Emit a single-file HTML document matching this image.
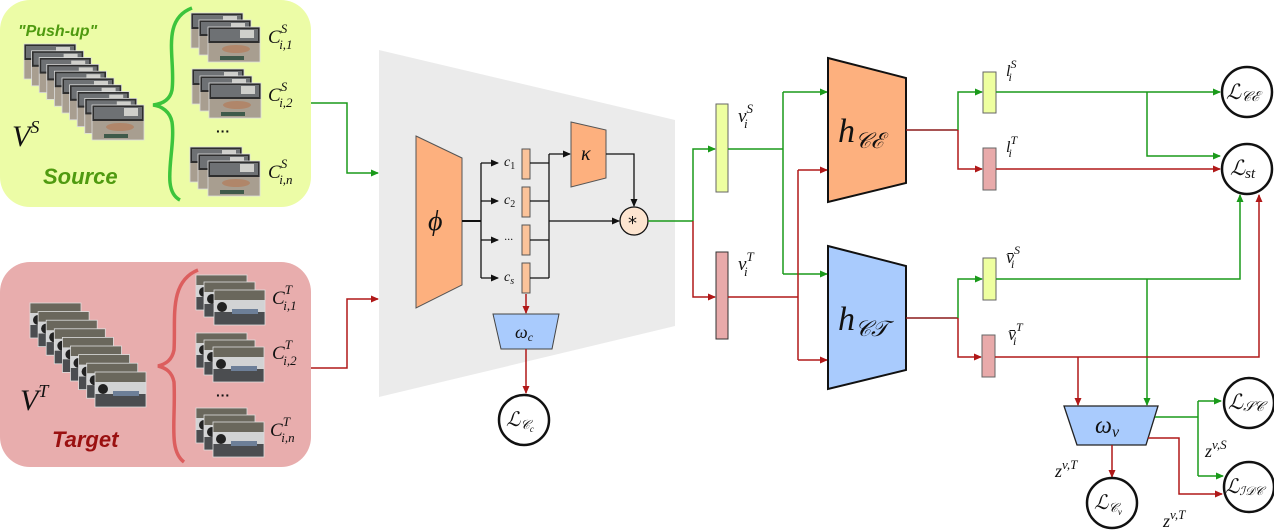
<!DOCTYPE html>
<html><head><meta charset="utf-8"><style>
html,body{margin:0;padding:0;background:#fff;}
svg{display:block;}
text{font-family:"Liberation Serif",serif;font-style:italic;fill:#111;}
</style></head><body>
<svg width="1274" height="531" viewBox="0 0 1274 531" xmlns="http://www.w3.org/2000/svg">
<defs>
<marker id="ag" markerWidth="8" markerHeight="8" refX="7" refY="4" orient="auto" markerUnits="userSpaceOnUse"><path d="M0,0.5 L8,4 L0,7.5 Z" fill="#1a9a1a"/></marker>
<marker id="ar" markerWidth="8" markerHeight="8" refX="7" refY="4" orient="auto" markerUnits="userSpaceOnUse"><path d="M0,0.5 L8,4 L0,7.5 Z" fill="#b01818"/></marker>
<marker id="ak" markerWidth="8" markerHeight="8" refX="7" refY="4" orient="auto" markerUnits="userSpaceOnUse"><path d="M0,0.5 L8,4 L0,7.5 Z" fill="#111"/></marker>
<g id="fs">
<rect x="0" y="0" width="52" height="35" fill="#2e2e2e"/>
<rect x="2" y="2" width="48" height="12" fill="#6e7174"/>
<rect x="32" y="3" width="14" height="8" fill="#cfcfcb"/>
<rect x="0" y="16" width="52" height="19" fill="#a89e90"/>
<ellipse cx="28" cy="22" rx="14" ry="4" fill="#b0866a"/>
<rect x="12" y="29" width="24" height="4" fill="#3f5a4a"/>
<rect x="0" y="0" width="52" height="35" fill="none" stroke="#ddd" stroke-width="0.8"/>
</g>
<g id="ft">
<rect x="0" y="0" width="51" height="35" fill="#6a675c"/>
<rect x="0" y="10" width="51" height="12" fill="#d2d3d4"/>
<ellipse cx="8" cy="17" rx="5" ry="5" fill="#222"/>
<rect x="0" y="22" width="51" height="13" fill="#4b4d50"/>
<rect x="18" y="19" width="26" height="5" fill="#6d7f98"/>
<rect x="0" y="0" width="51" height="35" fill="none" stroke="#ddd" stroke-width="0.8"/>
</g>
</defs>

<rect x="0" y="0" width="311" height="207" rx="30" fill="#ecfca6"/>
<text x="18" y="36" style="font-family:'Liberation Sans',sans-serif;font-weight:bold;font-size:16px;fill:#4f9a10">"Push-up"</text>
<g>
<use href="#fs" x="24" y="44"/><use href="#fs" x="31.6" y="50.8"/><use href="#fs" x="39.2" y="57.6"/><use href="#fs" x="46.8" y="64.4"/><use href="#fs" x="54.4" y="71.2"/><use href="#fs" x="62" y="78"/><use href="#fs" x="69.6" y="84.8"/><use href="#fs" x="77.2" y="91.6"/><use href="#fs" x="84.8" y="98.4"/><use href="#fs" x="92" y="105"/>
</g>
<text x="12" y="146" font-size="30">V<tspan font-size="18" dy="-13">S</tspan></text>
<text x="43" y="184" style="font-family:'Liberation Sans',sans-serif;font-weight:bold;font-size:22px;fill:#4f9a10">Source</text>
<path d="M192,8 C160,20 176,60 172,90 C170,100 162,104 153,105 C162,106 170,112 172,122 C176,150 160,190 180,200" fill="none" stroke="#3cc43c" stroke-width="3.5"/>
<use href="#fs" x="191" y="13"/><use href="#fs" x="199" y="20"/><use href="#fs" x="208" y="27"/>
<use href="#fs" x="192" y="69"/><use href="#fs" x="200" y="76"/><use href="#fs" x="209" y="83"/>
<use href="#fs" x="190" y="147"/><use href="#fs" x="198" y="154"/><use href="#fs" x="208" y="161"/>
<text x="216" y="136" style="font-family:'Liberation Sans',sans-serif;font-style:normal;font-weight:bold;font-size:14px">···</text>
<text x="268" y="43" font-size="19">C<tspan font-size="13" dy="-10">S</tspan><tspan font-size="13" dx="-8" dy="16">i,1</tspan></text>
<text x="268" y="101" font-size="19">C<tspan font-size="13" dy="-10">S</tspan><tspan font-size="13" dx="-8" dy="16">i,2</tspan></text>
<text x="268" y="178" font-size="19">C<tspan font-size="13" dy="-10">S</tspan><tspan font-size="13" dx="-8" dy="16">i,n</tspan></text>

<rect x="0" y="262" width="311" height="205" rx="30" fill="#e8adad"/>
<g>
<use href="#ft" x="30" y="303"/><use href="#ft" x="38.1" y="311.6"/><use href="#ft" x="46.2" y="320.2"/><use href="#ft" x="54.3" y="328.8"/><use href="#ft" x="62.4" y="337.4"/><use href="#ft" x="70.5" y="346"/><use href="#ft" x="78.6" y="354.6"/><use href="#ft" x="86.7" y="363.2"/><use href="#ft" x="95" y="372"/>
</g>
<text x="20" y="410" font-size="30">V<tspan font-size="18" dy="-13">T</tspan></text>
<text x="52" y="447" style="font-family:'Liberation Sans',sans-serif;font-weight:bold;font-size:22px;fill:#9a1010">Target</text>
<path d="M198,270 C168,282 176,320 174,350 C172,360 166,364 158,366 C166,368 172,372 174,382 C176,420 168,450 184,462" fill="none" stroke="#dc5e5e" stroke-width="3.5"/>
<use href="#ft" x="196" y="275"/><use href="#ft" x="204" y="282"/><use href="#ft" x="214" y="290"/>
<use href="#ft" x="196" y="333"/><use href="#ft" x="204" y="340"/><use href="#ft" x="213" y="347"/>
<use href="#ft" x="196" y="408"/><use href="#ft" x="204" y="415"/><use href="#ft" x="213" y="422"/>
<text x="216" y="400" style="font-family:'Liberation Sans',sans-serif;font-style:normal;font-weight:bold;font-size:14px">···</text>
<text x="272" y="304" font-size="19">C<tspan font-size="13" dy="-10">T</tspan><tspan font-size="13" dx="-8" dy="16">i,1</tspan></text>
<text x="272" y="359" font-size="19">C<tspan font-size="13" dy="-10">T</tspan><tspan font-size="13" dx="-8" dy="16">i,2</tspan></text>
<text x="270" y="436" font-size="19">C<tspan font-size="13" dy="-10">T</tspan><tspan font-size="13" dx="-8" dy="16">i,n</tspan></text>

<polyline points="311,103 347,103 347,173 378,173" fill="none" stroke="#1a9a1a" stroke-width="1.5" marker-end="url(#ag)"/>
<polyline points="311,368 347,368 347,299 378,299" fill="none" stroke="#b01818" stroke-width="1.5" marker-end="url(#ar)"/>

<polygon points="379,50 675,120 675,326 379,397" fill="#ebebeb"/>

<polygon points="416,136 462,158 462,285 416,308" fill="#fdb07e" stroke="#555" stroke-width="1"/>
<text x="428" y="230" font-size="28">ϕ</text>
<line x1="462" y1="221" x2="481" y2="221" stroke="#111" stroke-width="2"/>
<line x1="481" y1="163" x2="481" y2="278" stroke="#111" stroke-width="1.3"/>
<line x1="481" y1="163" x2="498" y2="163" stroke="#111" stroke-width="1.3" marker-end="url(#ak)"/>
<line x1="481" y1="201" x2="498" y2="201" stroke="#111" stroke-width="1.3" marker-end="url(#ak)"/>
<line x1="481" y1="240" x2="498" y2="240" stroke="#111" stroke-width="1.3" marker-end="url(#ak)"/>
<line x1="481" y1="278" x2="498" y2="278" stroke="#111" stroke-width="1.3" marker-end="url(#ak)"/>
<text x="504" y="166" font-size="14">c<tspan font-size="10" dy="3" font-style="normal">1</tspan></text>
<text x="504" y="204" font-size="14">c<tspan font-size="10" dy="3" font-style="normal">2</tspan></text>
<text x="504" y="243" font-size="12" font-style="normal">···</text>
<text x="504" y="281" font-size="14">c<tspan font-size="10" dy="3">s</tspan></text>
<g fill="#fbc39a" stroke="#555" stroke-width="1">
<rect x="522" y="149" width="8" height="30"/><rect x="522" y="187" width="8" height="30"/><rect x="522" y="225" width="8" height="30"/><rect x="522" y="263" width="8" height="30"/>
</g>
<g stroke="#111" stroke-width="1.3" fill="none">
<line x1="530" y1="163" x2="549" y2="163"/><line x1="530" y1="201" x2="549" y2="201"/><line x1="530" y1="240" x2="549" y2="240"/><line x1="530" y1="278" x2="549" y2="278"/>
<line x1="549" y1="154" x2="549" y2="278"/>
</g>
<line x1="549" y1="154" x2="570" y2="154" stroke="#111" stroke-width="1.3" marker-end="url(#ak)"/>
<line x1="549" y1="221" x2="619" y2="221" stroke="#111" stroke-width="1.3" marker-end="url(#ak)"/>
<polygon points="571,122 606,130 606,178 571,187" fill="#fdb07e" stroke="#555" stroke-width="1"/>
<text x="581" y="160" font-size="20">κ</text>
<polyline points="606,154 634,154 634,206" fill="none" stroke="#111" stroke-width="1.3" marker-end="url(#ak)"/>
<circle cx="634" cy="221" r="14" fill="#fde5d0" stroke="#111" stroke-width="1.3"/>
<text x="628" y="229" font-size="18" font-style="normal" style="font-family:'DejaVu Sans',sans-serif">*</text>
<line x1="526" y1="294" x2="526" y2="313" stroke="#b01818" stroke-width="1.5" marker-end="url(#ar)"/>
<polygon points="493,314 559,314 552,349 501,349" fill="#a9cbfd" stroke="#444" stroke-width="1"/>
<text x="515" y="338" font-size="18">ω<tspan font-size="12" dy="3">c</tspan></text>
<line x1="526" y1="349" x2="526" y2="393" stroke="#b01818" stroke-width="1.5" marker-end="url(#ar)"/>
<circle cx="524" cy="420" r="25" fill="#fff" stroke="#111" stroke-width="2.5"/>
<text x="506" y="426" font-size="20">ℒ<tspan font-size="13" dy="3">𝒞</tspan><tspan font-size="9" dy="3">c</tspan></text>

<line x1="648" y1="221" x2="693" y2="221" stroke="#1a9a1a" stroke-width="1.5"/>
<polyline points="693,221 693,149 715,149" fill="none" stroke="#1a9a1a" stroke-width="1.5" marker-end="url(#ag)"/>
<polyline points="693,221 693,297 715,297" fill="none" stroke="#b01818" stroke-width="1.5" marker-end="url(#ar)"/>
<rect x="716" y="104" width="12" height="88" fill="#eeffa0" stroke="#666" stroke-width="1"/>
<rect x="716" y="252" width="12" height="87" fill="#e8aaaa" stroke="#333" stroke-width="1"/>
<text x="738" y="122" font-size="19">v<tspan font-size="13" dy="-9">S</tspan><tspan font-size="13" dx="-9" dy="15">i</tspan></text>
<text x="738" y="270" font-size="19">v<tspan font-size="13" dy="-9">T</tspan><tspan font-size="13" dx="-9" dy="15">i</tspan></text>

<polyline points="728,149 783,149" fill="none" stroke="#1a9a1a" stroke-width="1.5"/>
<line x1="783" y1="92" x2="783" y2="274" stroke="#1a9a1a" stroke-width="1.5"/>
<line x1="783" y1="92" x2="827" y2="92" stroke="#1a9a1a" stroke-width="1.5" marker-end="url(#ag)"/>
<line x1="783" y1="274" x2="827" y2="274" stroke="#1a9a1a" stroke-width="1.5" marker-end="url(#ag)"/>
<line x1="728" y1="297" x2="798" y2="297" stroke="#b01818" stroke-width="1.5"/>
<line x1="798" y1="170" x2="798" y2="360" stroke="#b01818" stroke-width="1.5"/>
<line x1="798" y1="170" x2="827" y2="170" stroke="#b01818" stroke-width="1.5" marker-end="url(#ar)"/>
<line x1="798" y1="360" x2="827" y2="360" stroke="#b01818" stroke-width="1.5" marker-end="url(#ar)"/>

<polygon points="828,58 906,78 906,183 828,202" fill="#fdb07e" stroke="#111" stroke-width="2"/>
<text x="838" y="142" font-size="34">h<tspan font-size="22" dy="6">𝒞ℰ</tspan></text>
<polygon points="828,246 906,266 906,370 828,389" fill="#a9cbfd" stroke="#111" stroke-width="2"/>
<text x="838" y="330" font-size="34">h<tspan font-size="22" dy="6">𝒞𝒯</tspan></text>

<line x1="906" y1="130" x2="958" y2="130" stroke="#8b1a1a" stroke-width="1.5"/>
<polyline points="958,130 958,92 982,92" fill="none" stroke="#1a9a1a" stroke-width="1.5" marker-end="url(#ag)"/>
<polyline points="958,130 958,169 982,169" fill="none" stroke="#b01818" stroke-width="1.5" marker-end="url(#ar)"/>
<line x1="906" y1="318" x2="958" y2="318" stroke="#8b1a1a" stroke-width="1.5"/>
<polyline points="958,318 958,279 982,279" fill="none" stroke="#1a9a1a" stroke-width="1.5" marker-end="url(#ag)"/>
<polyline points="958,318 958,357 981,357" fill="none" stroke="#b01818" stroke-width="1.5" marker-end="url(#ar)"/>
<rect x="983" y="72" width="13" height="41" fill="#eeffa0" stroke="#666" stroke-width="1"/>
<rect x="983" y="148" width="13" height="42" fill="#e8aaaa" stroke="#666" stroke-width="1"/>
<rect x="983" y="258" width="13" height="42" fill="#eeffa0" stroke="#666" stroke-width="1"/>
<rect x="982" y="335" width="13" height="42" fill="#e8aaaa" stroke="#666" stroke-width="1"/>
<text x="1006" y="76" font-size="16">l<tspan font-size="12" dy="-8">S</tspan><tspan font-size="12" dx="-8" dy="13">i</tspan></text>
<text x="1006" y="152" font-size="16">l<tspan font-size="12" dy="-8">T</tspan><tspan font-size="12" dx="-8" dy="13">i</tspan></text>
<text x="1006" y="263" font-size="18">v̄<tspan font-size="12" dy="-9">S</tspan><tspan font-size="12" dx="-9" dy="14">i</tspan></text>
<text x="1008" y="340" font-size="18">v̄<tspan font-size="12" dy="-9">T</tspan><tspan font-size="12" dx="-9" dy="14">i</tspan></text>

<line x1="996" y1="92" x2="1220" y2="92" stroke="#1a9a1a" stroke-width="1.5" marker-end="url(#ag)"/>
<polyline points="1147,92 1147,156 1220,156" fill="none" stroke="#1a9a1a" stroke-width="1.5" marker-end="url(#ag)"/>
<line x1="996" y1="169" x2="1220" y2="169" stroke="#b01818" stroke-width="1.5" marker-end="url(#ar)"/>
<polyline points="996,279 1240,279 1240,195" fill="none" stroke="#1a9a1a" stroke-width="1.5" marker-end="url(#ag)"/>
<line x1="1147" y1="279" x2="1147" y2="405" stroke="#1a9a1a" stroke-width="1.5" marker-end="url(#ag)"/>
<polyline points="995,357 1259,357 1259,195" fill="none" stroke="#b01818" stroke-width="1.5" marker-end="url(#ar)"/>
<line x1="1078" y1="357" x2="1078" y2="405" stroke="#b01818" stroke-width="1.5" marker-end="url(#ar)"/>

<polygon points="1064,406 1158,406 1146,445 1077,445" fill="#a9cbfd" stroke="#222" stroke-width="1.3"/>
<text x="1095" y="433" font-size="24">ω<tspan font-size="16" dy="4">v</tspan></text>
<polyline points="1155,417 1198,417" fill="none" stroke="#1a9a1a" stroke-width="1.5"/>
<line x1="1198" y1="401" x2="1198" y2="476" stroke="#1a9a1a" stroke-width="1.5"/>
<line x1="1198" y1="401" x2="1221" y2="401" stroke="#1a9a1a" stroke-width="1.5" marker-end="url(#ag)"/>
<line x1="1198" y1="476" x2="1223" y2="476" stroke="#1a9a1a" stroke-width="1.5" marker-end="url(#ag)"/>
<polyline points="1148,438 1179,438 1179,494 1222,494" fill="none" stroke="#b01818" stroke-width="1.5" marker-end="url(#ar)"/>
<line x1="1112" y1="445" x2="1112" y2="477" stroke="#b01818" stroke-width="1.5" marker-end="url(#ar)"/>

<g fill="#fff" stroke="#111" stroke-width="2.5">
<circle cx="1247" cy="92" r="25"/><circle cx="1247" cy="169" r="25"/><circle cx="1249" cy="403" r="25"/><circle cx="1249" cy="487" r="25"/><circle cx="1112" cy="503" r="25"/>
</g>
<text x="1226" y="99" font-size="21">ℒ<tspan font-size="14" dy="2">𝒞ℰ</tspan></text>
<text x="1230" y="175" font-size="21">ℒ<tspan font-size="15" dy="3">st</tspan></text>
<text x="1228" y="409" font-size="21">ℒ<tspan font-size="14" dy="2">𝒮𝒞</tspan></text>
<text x="1225" y="493" font-size="20">ℒ<tspan font-size="12" dy="2">ℐ𝒟𝒞</tspan></text>
<text x="1094" y="509" font-size="20">ℒ<tspan font-size="13" dy="3">𝒞</tspan><tspan font-size="9" dy="3">v</tspan></text>
<text x="1055" y="477" font-size="18">z<tspan font-size="13" dy="-8">v,T</tspan></text>
<text x="1205" y="457" font-size="18">z<tspan font-size="13" dy="-8">v,S</tspan></text>
<text x="1163" y="527" font-size="18">z<tspan font-size="13" dy="-8">v,T</tspan></text>
</svg>
</body></html>
